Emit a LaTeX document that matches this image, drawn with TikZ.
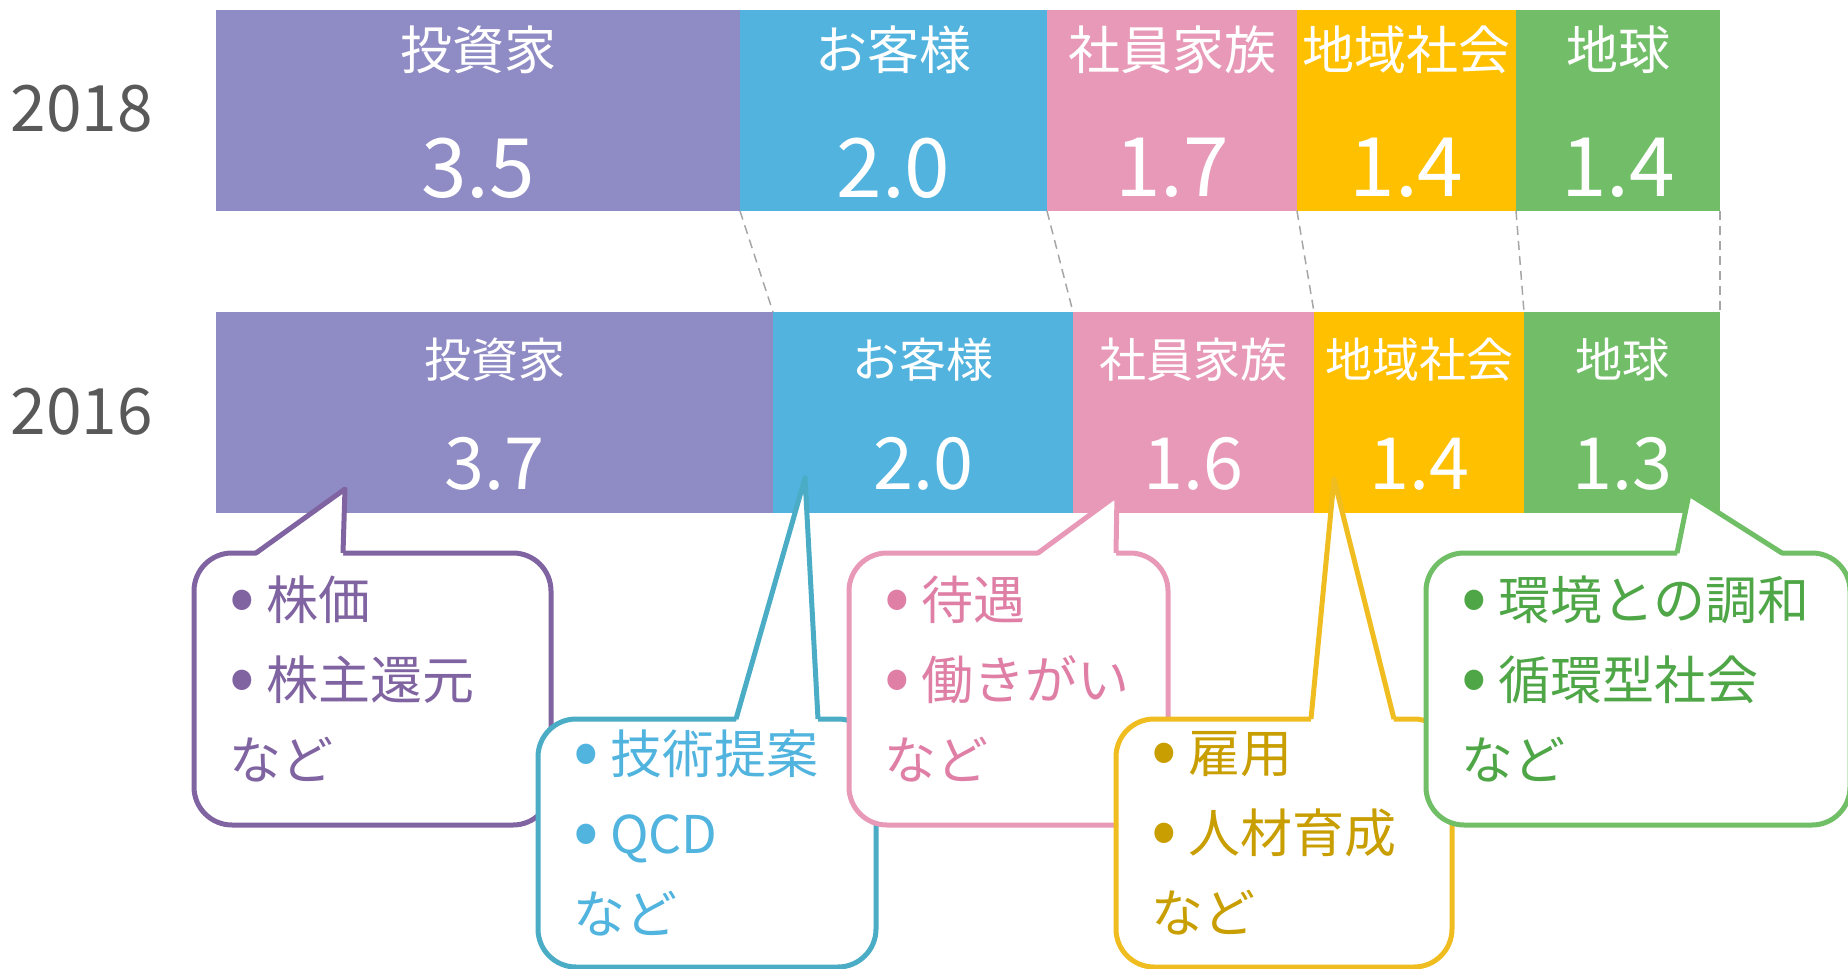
\documentclass[tikz,border=0pt]{standalone}
\usepackage{fontspec}
\setmainfont{Noto Sans CJK JP}
\usetikzlibrary{calc}

\definecolor{invfill}{HTML}{8F8BC4}
\definecolor{cusfill}{HTML}{51B3DE}
\definecolor{empfill}{HTML}{E899B7}
\definecolor{comfill}{HTML}{FFC000}
\definecolor{earfill}{HTML}{72BD68}
\definecolor{invline}{HTML}{8064A2}
\definecolor{cusline}{HTML}{4BACC6}
\definecolor{custext}{HTML}{50B4DF}
\definecolor{empline}{HTML}{E899B7}
\definecolor{emptext}{HTML}{E07FA6}
\definecolor{comline}{HTML}{F0BD20}
\definecolor{comtext}{HTML}{C89E00}
\definecolor{earline}{HTML}{70BE66}
\definecolor{eartext}{HTML}{4EA647}
\definecolor{yeartext}{HTML}{595959}
\definecolor{guidegray}{HTML}{A6A6A6}

\newcommand{\dotitem}{\makebox[37pt][l]{\raisebox{-3pt}{\scalebox{1.45}{•}}}}
\newcommand{\lastdepth}{\rule[-22pt]{0pt}{1pt}}

\begin{document}
\begin{tikzpicture}[x=1pt, y=-1pt,
  year/.style={text=yeartext, font=\fontsize{64}{64}\selectfont, inner sep=0pt},
  big label/.style={text=white, font=\fontsize{52}{52}\selectfont, inner sep=0pt},
  small label/.style={text=white, font=\fontsize{47}{47}\selectfont, inner sep=0pt},
  big value/.style={text=white, font=\fontsize{82}{82}\selectfont, inner sep=0pt},
  small value/.style={text=white, font=\fontsize{72}{72}\selectfont, inner sep=0pt},
  guide/.style={draw=guidegray, line width=1.5pt, dash pattern=on 9pt off 6pt},
  bubble/.style={fill=white, line width=5pt, rounded corners=38pt, anchor=north west,
    outer sep=0pt, inner xsep=35pt, inner ysep=0pt, align=left,
    font=\fontsize{52}{80}\selectfont},
  tail/.style={line width=5pt, line join=round}]
\useasboundingbox (0,0) rectangle (1848,969);
\node[year] (y18) at (82,109) {2018};
\node[year] (y16) at (82,412) {2016};
\fill[invfill] (216,10) rectangle (740,211); % 2018 investors
\fill[cusfill] (740,10) rectangle (1047,211); % 2018 customers
\fill[empfill] (1047,10) rectangle (1297,211); % 2018 employees
\fill[comfill] (1297,10) rectangle (1516,211); % 2018 community
\fill[earfill] (1516,10) rectangle (1720,211); % 2018 earth
\fill[invfill] (216,312) rectangle (773,513); % 2016 investors
\fill[cusfill] (773,312) rectangle (1073,513); % 2016 customers
\fill[empfill] (1073,312) rectangle (1314,513); % 2016 employees
\fill[comfill] (1314,312) rectangle (1524,513); % 2016 community
\fill[earfill] (1524,312) rectangle (1720,513); % 2016 earth
\coordinate (a18) at (740,211);
\coordinate (a16) at (773,312);
\coordinate (b18) at (1047,211);
\coordinate (b16) at (1073,312);
\coordinate (c18) at (1297,211);
\coordinate (c16) at (1314,312);
\coordinate (d18) at (1516,211);
\coordinate (d16) at (1524,312);
\coordinate (e18) at (1720,211);
\coordinate (e16) at (1720,312);
\draw[guide] (a18) -- (a16);
\draw[guide] (b18) -- (b16);
\draw[guide] (c18) -- (c16);
\draw[guide] (d18) -- (d16);
\draw[guide] (e18) -- (e16);
\node[big label] (inv18) at (478,50) {投資家};
\node[big label] (cus18) at (893.5,50) {お客様};
\node[big label] (emp18) at (1172,50) {社員家族};
\node[big label] (com18) at (1406.5,50) {地域社会};
\node[big label] (ear18) at (1618,50) {地球};
\node[big value] (inv18v) at (478,168) {3.5};
\node[big value] (cus18v) at (893.5,168) {2.0};
\node[big value] (emp18v) at (1172,168) {1.7};
\node[big value] (com18v) at (1406.5,168) {1.4};
\node[big value] (ear18v) at (1618,168) {1.4};
\node[small label] (inv16) at (494.5,360) {投資家};
\node[small label] (cus16) at (923,360) {お客様};
\node[small label] (emp16) at (1193.5,360) {社員家族};
\node[small label] (com16) at (1419,360) {地域社会};
\node[small label] (ear16) at (1622,360) {地球};
\node[small value] (inv16v) at (494.5,464) {3.7};
\node[small value] (cus16v) at (923,464) {2.0};
\node[small value] (emp16v) at (1193.5,464) {1.6};
\node[small value] (com16v) at (1419,464) {1.4};
\node[small value] (ear16v) at (1622,464) {1.3};
% callouts
\coordinate (t1) at (345,489);
\coordinate (t2) at (805,478);
\coordinate (t3) at (1117,495);
\coordinate (t4) at (1334,479);
\coordinate (t5) at (1689,494);
\node[bubble, draw=invline, text=invline, minimum width=357pt, minimum height=272pt, text width=287pt] (cb1) at (194,553) {\dotitem 株価\\\dotitem 株主還元\\など\lastdepth};
\fill[white] ($(cb1.north west)+(62,3)$) -- (t1) -- ($(cb1.north west)+(149,3)$) -- cycle;
\draw[tail, invline] ($(cb1.north west)+(62,0)$) -- (t1) -- ($(cb1.north west)+(149,0)$);
\node[bubble, draw=cusline, text=custext, minimum width=338pt, minimum height=248pt, text width=268pt] (cb2) at (538,719) {\dotitem 技術提案\\\dotitem QCD\\など\lastdepth};
\fill[white] ($(cb2.north west)+(198,3)$) -- (t2) -- ($(cb2.north west)+(280,3)$) -- cycle;
\draw[tail, cusline] ($(cb2.north west)+(198,0)$) -- (t2) -- ($(cb2.north west)+(280,0)$);
\node[bubble, draw=empline, text=emptext, minimum width=319pt, minimum height=272pt, text width=249pt] (cb3) at (849,553) {\dotitem 待遇\\\dotitem 働きがい\\など\lastdepth};
\fill[white] ($(cb3.north west)+(189,3)$) -- (t3) -- ($(cb3.north west)+(267,3)$) -- cycle;
\draw[tail, empline] ($(cb3.north west)+(189,0)$) -- (t3) -- ($(cb3.north west)+(267,0)$);
\node[bubble, draw=comline, text=comtext, minimum width=336pt, minimum height=248pt, text width=266pt] (cb4) at (1116,719) {\dotitem 雇用\\\dotitem 人材育成\\など\lastdepth};
\fill[white] ($(cb4.north west)+(195,3)$) -- (t4) -- ($(cb4.north west)+(278,3)$) -- cycle;
\draw[tail, comline] ($(cb4.north west)+(195,0)$) -- (t4) -- ($(cb4.north west)+(278,0)$);
\node[bubble, draw=earline, text=eartext, minimum width=424pt, minimum height=272pt, text width=354pt] (cb5) at (1426,553) {\dotitem 環境との調和\\\dotitem 循環型社会\\など\lastdepth};
\fill[white] ($(cb5.north west)+(251,3)$) -- (t5) -- ($(cb5.north west)+(356,3)$) -- cycle;
\draw[tail, earline] ($(cb5.north west)+(251,0)$) -- (t5) -- ($(cb5.north west)+(356,0)$);
\end{tikzpicture}
\end{document}
